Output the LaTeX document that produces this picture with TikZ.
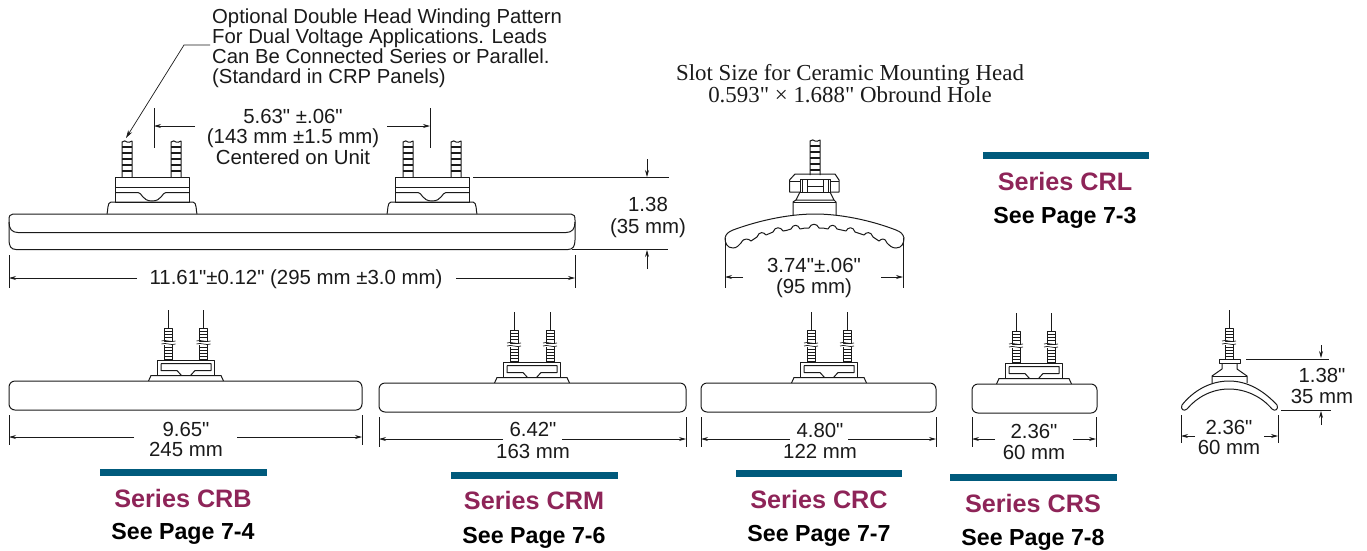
\documentclass[tikz,border=0pt]{standalone}
\usepackage{fontspec}
\setmainfont{Liberation Sans}[Ligatures=TeXOff]
\newfontfamily\serifface{Liberation Serif}
\usetikzlibrary{arrows.meta}
\definecolor{barteal}{HTML}{005A7C}
\definecolor{seriesred}{HTML}{8E2458}
\definecolor{ink}{HTML}{1A1A1A}
\tikzset{
  x=1pt,y=-1pt,
  part/.style={draw=ink,line width=1pt,line join=round},
  thin part/.style={draw=ink,line width=0.7pt},
  dim/.style={draw=ink,line width=0.7pt},
  dimarrow/.style={dim,-{Stealth[length=7pt,width=4pt]}},
  lbl/.style={font=\fontsize{20.4}{22}\selectfont,text=ink,inner sep=0pt,anchor=center,text height=14.6pt,text depth=0pt},
  noteline/.style={font=\fontsize{20.3}{22}\selectfont,text=ink,inner sep=0pt,anchor=west,text height=14.6pt,text depth=0pt},
  serifline/.style={font=\serifface\fontsize{22.9}{25}\selectfont,text=ink,inner sep=0pt,anchor=center,text height=15.2pt,text depth=0pt},
  seriesname/.style={font=\bfseries\fontsize{25.2}{27}\selectfont,text=seriesred,inner sep=0pt,anchor=center,text height=18pt,text depth=0pt},
  seepage/.style={font=\bfseries\fontsize{23.2}{25}\selectfont,text=black,inner sep=0pt,anchor=center,text height=16.6pt,text depth=0pt},
  bar/.style={draw=none,fill=barteal},
  pics/smallterm/.style={code={
    \draw[thin part] (0,-71)--(0,-53);
    \draw[part] (-4,-53) rectangle (4,-40);
    \foreach \yy in {-50,-47,-44}{\draw[thin part] (-4,\yy)--(4,\yy);}
    \draw[thin part] (-7,-40) .. controls (-3,-42) and (3,-38) .. (7,-40);
    \draw[thin part] (-7,-37) .. controls (-3,-39) and (3,-35) .. (7,-37);
    \draw[part] (-4,-36) -- (-4,-21) (4,-36) -- (4,-21);
    \foreach \yy in {-34,-31,-28,-25,-22}{\draw[thin part] (-4,\yy)--(4,\yy);}
  }},
  pics/smallhead/.style={code={
    \draw[part] (-37.5,0) -- (-35,-5.5) -- (35,-5.5) -- (37.5,0);
    \draw[part] (-28.5,-5.5) -- (-28.5,-21) -- (28.5,-21) -- (28.5,-5.5);
    \draw[part] (-25,-17.5) -- (25,-17.5) -- (25,-10.5) -- (9,-10.5) -- (4.5,-5.5);
    \draw[part] (-25,-17.5) -- (-25,-10.5) -- (-9,-10.5) -- (-4.5,-5.5);
  }},
  pics/bigterm/.style={code={
    \draw[part] (-5,0) -- (-5,-35) .. controls (-3,-37) and (-1,-36) .. (0,-35) .. controls (1,-34) and (3,-35) .. (5,-36) -- (5,0);
    \foreach \yy in {-30,-24,-18,-12,-6}{\draw[draw=ink,line width=1.5pt] (-5,\yy)--(5,\yy);}
  }},
  pics/bighead/.style={code={
    \draw[part] (-37,0) rectangle (37,-25);
    \draw[part] (-37,-15) -- (37,-15);
    \draw[part] (-37,-9.5) -- (-14,-9.5) .. controls (-10,-9.5) and (-10,-1) .. (0,-1) .. controls (10,-1) and (10,-9.5) .. (14,-9.5) -- (37,-9.5);
    \draw[part] (-45,12) .. controls (-44,10) and (-45,0) .. (-41,0) -- (41,0) .. controls (45,0) and (44,10) .. (45,12);
  }},
}
\begin{document}
\begin{tikzpicture}
\useasboundingbox (0,0) rectangle (1367,550);

% --- top long unit
\draw[part] (9,220) .. controls (9,216) and (10,214) .. (13,214) -- (571,214) .. controls (574,214) and (575,216) .. (575,220)
  -- (575,240) .. controls (575,246) and (573,249.5) .. (568,249.5) -- (16,249.5) .. controls (11,249.5) and (9,246) .. (9,240) -- cycle;
\draw[part] (9,222) .. controls (9,229) and (12,232.5) .. (18,232.5) -- (566,232.5) .. controls (572,232.5) and (575,229) .. (575,222);
\pic at (127,177) {bigterm};
\pic at (176,177) {bigterm};
\pic at (408,177) {bigterm};
\pic at (456,177) {bigterm};
\pic at (152,202) {bighead};
\pic at (432,202) {bighead};

% leader and note
\coordinate (leadA) at (210,45);
\coordinate (leadB) at (184,45);
\coordinate (leadC) at (126,138);
\draw[dim,-{Stealth[length=8pt,width=4.5pt]}] (leadA) -- (leadB) -- (leadC);
\node[noteline] (n1) at (212,16) {Optional Double Head Winding Pattern};
\node[noteline] (n2) at (212,36) {For Dual Voltage Applications. Leads};
\node[noteline] (n3) at (212,56) {Can Be Connected Series or Parallel.};
\node[noteline] (n4) at (212,76) {(Standard in CRP Panels)};

% head spacing dim
\draw[dim] (154,108) -- (154,148);
\draw[dim] (430,108) -- (430,148);
\draw[dimarrow] (195,126) -- (154,126);
\draw[dimarrow] (387,126) -- (430,126);
\node[lbl] (t1) at (293,116) {5.63" ±.06"};
\node[lbl] (t2) at (293,136) {(143 mm ±1.5 mm)};
\node[lbl] (t3) at (293,157) {Centered on Unit};

% height dim
\draw[dim] (473,177) -- (669,177);
\draw[dim] (572,249.5) -- (668,249.5);
\draw[dimarrow] (647,159) -- (647,177);
\draw[dimarrow] (647,269) -- (647,250);
\node[lbl] (t4) at (648,204) {1.38};
\node[lbl] (t5) at (648,226) {(35 mm)};

% length dim
\draw[dim] (9,255) -- (9,288);
\draw[dim] (575,255) -- (575,288);
\draw[dimarrow] (137,278) -- (9,278);
\draw[dimarrow] (456,278) -- (575,278);
\node[lbl] (t6) at (296,277) {11.61"±0.12" (295 mm ±3.0 mm)};

% --- ceramic head arch
\node[serifline] (s1) at (850,73) {Slot Size for Ceramic Mounting Head};
\node[serifline] (s2) at (850,95) {0.593" × 1.688" Obround Hole};
\draw[part] (810,175) -- (810,141) .. controls (812,139) and (814,140) .. (815,141) .. controls (816,142) and (818,141) .. (820,140) -- (820,175);
\foreach \yy in {146,152,158,164,170}{\draw[draw=ink,line width=1.5pt] (810,\yy)--(820,\yy);}
\draw[part] (795,174) -- (835,174) -- (839,180) -- (839,192) -- (789.5,192) -- (789.5,180) -- cycle;
\draw[thin part] (789.5,181) -- (839,181);
\draw[part,fill=white] (800,179) rectangle (830,192);
\draw[part] (802,179) rectangle (807,192);
\draw[part] (823,179) rectangle (828,192);
\draw[thin part] (807,186) -- (823,186);
\draw[part] (800,192) -- (796,200) -- (834,200) -- (830,192);
\draw[part] (796,200) -- (793,202) -- (793,215);
\draw[part] (834,200) -- (836,202) -- (836,215);
\draw[part] (793,202) -- (836,202);
\draw[part] (725,238) .. controls (726,234) and (728,232) .. (733,230) .. controls (760,220) and (790,214) .. (815,214) .. controls (840,214) and (870,220) .. (896,230) .. controls (901,232) and (903,234) .. (904,238)
  .. controls (904,243) and (902,248) .. (896,248) .. controls (892,248) and (890,246) .. (887,243);
\draw[part] (725,238) .. controls (725,243) and (727,248) .. (733,248) .. controls (737,248) and (739,245) .. (741,243);
\draw[part] (741,243)
  .. controls (744,237) and (749,239) .. (751,241)
  .. controls (753,240) and (755,238) .. (757,237)
  .. controls (759,231) and (764,232) .. (766,235)
  .. controls (768,234) and (771,233) .. (773,232)
  .. controls (775,226) and (781,227) .. (783,231)
  .. controls (785,231) and (788,230) .. (791,229)
  .. controls (793,224) and (798,224) .. (800,229)
  .. controls (803,228) and (806,228) .. (809,228)
  .. controls (811,223) and (817,223) .. (819,228)
  .. controls (822,228) and (825,228) .. (828,229)
  .. controls (830,224) and (835,224) .. (837,229)
  .. controls (840,230) and (843,230) .. (846,231)
  .. controls (848,227) and (853,226) .. (855,232)
  .. controls (858,233) and (861,234) .. (864,235)
  .. controls (866,232) and (871,231) .. (873,237)
  .. controls (875,238) and (877,240) .. (879,241)
  .. controls (881,239) and (885,237) .. (887,243);
\draw[dim] (725,238) -- (725,288);
\draw[dim] (903,238) -- (903,288);
\draw[dimarrow] (743,277) -- (725,277);
\draw[dimarrow] (881,277) -- (903,277);
\node[lbl] (t7) at (814,265) {3.74"±.06"};
\node[lbl] (t8) at (814,286) {(95 mm)};

% --- CRL block
\fill[bar] (983,152) rectangle (1149,159);
\node[seriesname] (crl) at (1065,181) {Series CRL};
\node[seepage] (crlp) at (1065,215) {See Page 7-3};

% --- CRB
\draw[part,rounded corners=6pt] (9,381) rectangle (362,410);
\pic at (186,381) {smallhead};
\pic at (168.5,381) {smallterm};
\pic at (203.5,381) {smallterm};
\draw[dim] (9,415) -- (9,445);
\draw[dim] (362,415) -- (362,445);
\draw[dimarrow] (134,437) -- (9,437);
\draw[dimarrow] (237,437) -- (362,437);
\node[lbl] (t9) at (186,429) {9.65"};
\node[lbl] (t10) at (186,449) {245 mm};
\fill[bar] (100,468.500) rectangle (267,475.500);
\node[seriesname] (crb) at (183,498) {Series CRB};
\node[seepage] (crbp) at (183,531) {See Page 7-4};

% --- CRM
\draw[part,rounded corners=6pt] (379,383) rectangle (686,412);
\pic at (532,383) {smallhead};
\pic at (514,383) {smallterm};
\pic at (550,383) {smallterm};
\draw[dim] (379,417) -- (379,447);
\draw[dim] (686,417) -- (686,447);
\draw[dimarrow] (503,439) -- (379,439);
\draw[dimarrow] (562,439) -- (686,439);
\node[lbl] (t11) at (533,429) {6.42"};
\node[lbl] (t12) at (533,451) {163 mm};
\fill[bar] (451,471.500) rectangle (618,478.500);
\node[seriesname] (crm) at (534,500) {Series CRM};
\node[seepage] (crmp) at (534,535) {See Page 7-6};

% --- CRC
\draw[part,rounded corners=6pt] (701,383) rectangle (936,412);
\pic at (829,383) {smallhead};
\pic at (811,383) {smallterm};
\pic at (847,383) {smallterm};
\draw[dim] (701,417) -- (701,447);
\draw[dim] (936,417) -- (936,447);
\draw[dimarrow] (790,439) -- (701,439);
\draw[dimarrow] (848,439) -- (936,439);
\node[lbl] (t13) at (820,430) {4.80"};
\node[lbl] (t14) at (820,451) {122 mm};
\fill[bar] (736,469.500) rectangle (902,476.500);
\node[seriesname] (crc) at (819,499) {Series CRC};
\node[seepage] (crcp) at (819,533) {See Page 7-7};

% --- CRS
\draw[part,rounded corners=6pt] (972,384) rectangle (1097,413);
\pic at (1034,384) {smallhead};
\pic at (1016,384) {smallterm};
\pic at (1051,384) {smallterm};
\draw[dim] (972,417) -- (972,447);
\draw[dim] (1096,417) -- (1096,447);
\draw[dimarrow] (995,439) -- (972,439);
\draw[dimarrow] (1073,439) -- (1096,439);
\node[lbl] (t15) at (1034,431) {2.36"};
\node[lbl] (t16) at (1034,452) {60 mm};
\fill[bar] (950,473.500) rectangle (1117,480.500);
\node[seriesname] (crs) at (1033,503) {Series CRS};
\node[seepage] (crsp) at (1033,537) {See Page 7-8};

% --- small arch, right
\pic at (1229,381) {smallterm};
\draw[part] (1219,359) rectangle (1240,363);
\draw[part] (1222,363) -- (1222,369) -- (1212,376) -- (1212,383);
\draw[part] (1237,363) -- (1237,369) -- (1247,376) -- (1247,383);
\draw[part] (1212,376) -- (1247,376);
\draw[part] (1182,405) .. controls (1193,391) and (1210,381) .. (1229,381) .. controls (1248,381) and (1264,391) .. (1277,405)
  .. controls (1279,409) and (1275,412) .. (1272,409) .. controls (1262,397) and (1246,389) .. (1229,389) .. controls (1212,389) and (1197,397) .. (1187,409)
  .. controls (1184,412) and (1180,409) .. (1182,405) -- cycle;
\draw[dim] (1246,359) -- (1329,359);
\draw[dim] (1281,410) -- (1331,410);
\draw[dimarrow] (1321,345) -- (1321,358);
\draw[dimarrow] (1321,425) -- (1321,411);
\node[lbl] (t17) at (1322,375) {1.38"};
\node[lbl] (t18) at (1322,396) {35 mm};
\draw[dim] (1181,415) -- (1181,443);
\draw[dim] (1278,415) -- (1278,443);
\draw[dimarrow] (1195,436) -- (1181,436);
\draw[dimarrow] (1264,436) -- (1278,436);
\node[lbl] (t19) at (1229,427) {2.36"};
\node[lbl] (t20) at (1229,447) {60 mm};
\end{tikzpicture}
\end{document}
